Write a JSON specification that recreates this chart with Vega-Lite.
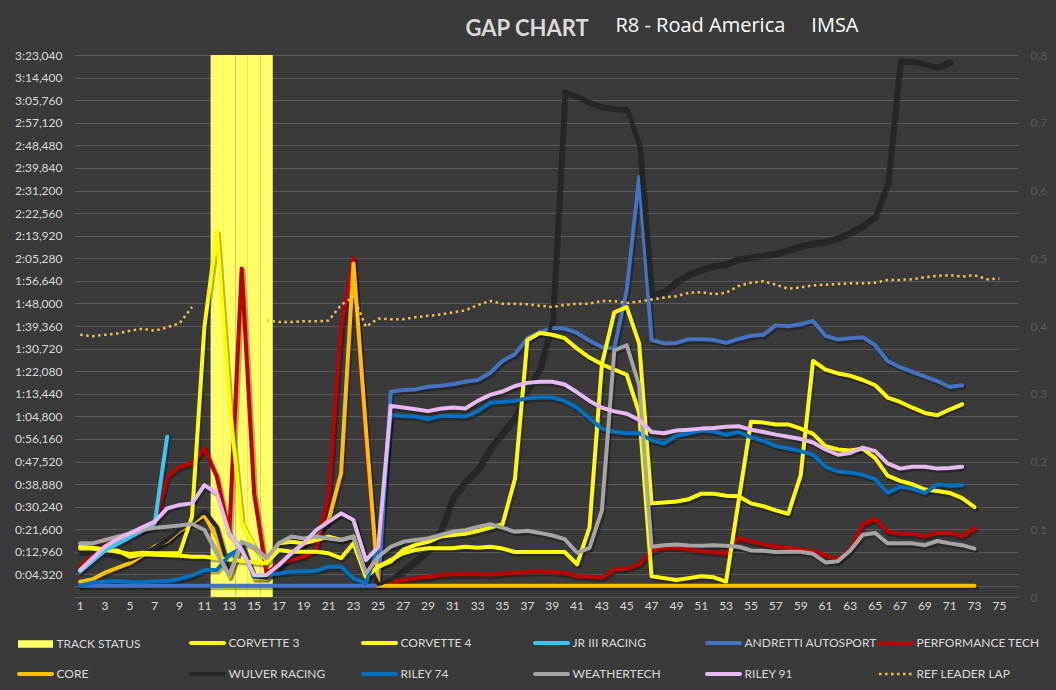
{
  "$schema": "https://vega.github.io/schema/vega-lite/v6.json",
  "width": 944,
  "height": 542,
  "autosize": {"type": "none"},
  "padding": {"left": 74, "top": 55, "right": 38, "bottom": 93},
  "background": "#3a3a3a",
  "config": {
    "view": {"stroke": null},
    "axis": {"domain": false, "ticks": false, "labelFont": "Lato", "labelFontSize": 12},
    "legend": {
      "orient": "none",
      "legendX": -56,
      "legendY": 582,
      "direction": "horizontal",
      "columns": 6,
      "gridAlign": "all",
      "symbolType": "stroke",
      "symbolSize": 100,
      "symbolStrokeWidth": 4,
      "symbolOffset": 11.5,
      "labelFont": "Lato",
      "labelFontSize": 12,
      "labelColor": "#d9d9d9",
      "labelOffset": 15,
      "labelLimit": 0,
      "columnPadding": -6,
      "rowPadding": 15
    }
  },
  "datasets": {
    "track": [
      {"series": "TRACK STATUS", "lap": 12, "status": 0.8},
      {"series": "TRACK STATUS", "lap": 13, "status": 0.8},
      {"series": "TRACK STATUS", "lap": 14, "status": 0.8},
      {"series": "TRACK STATUS", "lap": 15, "status": 0.8},
      {"series": "TRACK STATUS", "lap": 16, "status": 0.8}
    ],
    "ref": [
      {"series": "REF LEADER LAP", "lap": 1, "ref": 0.387},
      {"series": "REF LEADER LAP", "lap": 2, "ref": 0.385},
      {"series": "REF LEADER LAP", "lap": 3, "ref": 0.387},
      {"series": "REF LEADER LAP", "lap": 4, "ref": 0.389},
      {"series": "REF LEADER LAP", "lap": 5, "ref": 0.393},
      {"series": "REF LEADER LAP", "lap": 6, "ref": 0.396},
      {"series": "REF LEADER LAP", "lap": 7, "ref": 0.393},
      {"series": "REF LEADER LAP", "lap": 8, "ref": 0.398},
      {"series": "REF LEADER LAP", "lap": 9, "ref": 0.404},
      {"series": "REF LEADER LAP", "lap": 10, "ref": 0.428},
      {"series": "REF LEADER LAP", "lap": 11, "ref": null},
      {"series": "REF LEADER LAP", "lap": 12, "ref": null},
      {"series": "REF LEADER LAP", "lap": 13, "ref": null},
      {"series": "REF LEADER LAP", "lap": 14, "ref": null},
      {"series": "REF LEADER LAP", "lap": 15, "ref": null},
      {"series": "REF LEADER LAP", "lap": 16, "ref": 0.408},
      {"series": "REF LEADER LAP", "lap": 17, "ref": 0.406},
      {"series": "REF LEADER LAP", "lap": 18, "ref": 0.406},
      {"series": "REF LEADER LAP", "lap": 19, "ref": 0.407},
      {"series": "REF LEADER LAP", "lap": 20, "ref": 0.407},
      {"series": "REF LEADER LAP", "lap": 21, "ref": 0.408},
      {"series": "REF LEADER LAP", "lap": 22, "ref": 0.431},
      {"series": "REF LEADER LAP", "lap": 23, "ref": 0.443},
      {"series": "REF LEADER LAP", "lap": 24, "ref": 0.399},
      {"series": "REF LEADER LAP", "lap": 25, "ref": 0.411},
      {"series": "REF LEADER LAP", "lap": 26, "ref": 0.410},
      {"series": "REF LEADER LAP", "lap": 27, "ref": 0.410},
      {"series": "REF LEADER LAP", "lap": 28, "ref": 0.413},
      {"series": "REF LEADER LAP", "lap": 29, "ref": 0.415},
      {"series": "REF LEADER LAP", "lap": 30, "ref": 0.417},
      {"series": "REF LEADER LAP", "lap": 31, "ref": 0.420},
      {"series": "REF LEADER LAP", "lap": 32, "ref": 0.423},
      {"series": "REF LEADER LAP", "lap": 33, "ref": 0.431},
      {"series": "REF LEADER LAP", "lap": 34, "ref": 0.437},
      {"series": "REF LEADER LAP", "lap": 35, "ref": 0.433},
      {"series": "REF LEADER LAP", "lap": 36, "ref": 0.433},
      {"series": "REF LEADER LAP", "lap": 37, "ref": 0.432},
      {"series": "REF LEADER LAP", "lap": 38, "ref": 0.430},
      {"series": "REF LEADER LAP", "lap": 39, "ref": 0.428},
      {"series": "REF LEADER LAP", "lap": 40, "ref": 0.431},
      {"series": "REF LEADER LAP", "lap": 41, "ref": 0.433},
      {"series": "REF LEADER LAP", "lap": 42, "ref": 0.433},
      {"series": "REF LEADER LAP", "lap": 43, "ref": 0.437},
      {"series": "REF LEADER LAP", "lap": 44, "ref": 0.437},
      {"series": "REF LEADER LAP", "lap": 45, "ref": 0.434},
      {"series": "REF LEADER LAP", "lap": 46, "ref": 0.436},
      {"series": "REF LEADER LAP", "lap": 47, "ref": 0.439},
      {"series": "REF LEADER LAP", "lap": 48, "ref": 0.442},
      {"series": "REF LEADER LAP", "lap": 49, "ref": 0.444},
      {"series": "REF LEADER LAP", "lap": 50, "ref": 0.449},
      {"series": "REF LEADER LAP", "lap": 51, "ref": 0.450},
      {"series": "REF LEADER LAP", "lap": 52, "ref": 0.447},
      {"series": "REF LEADER LAP", "lap": 53, "ref": 0.449},
      {"series": "REF LEADER LAP", "lap": 54, "ref": 0.459},
      {"series": "REF LEADER LAP", "lap": 55, "ref": 0.464},
      {"series": "REF LEADER LAP", "lap": 56, "ref": 0.466},
      {"series": "REF LEADER LAP", "lap": 57, "ref": 0.461},
      {"series": "REF LEADER LAP", "lap": 58, "ref": 0.455},
      {"series": "REF LEADER LAP", "lap": 59, "ref": 0.457},
      {"series": "REF LEADER LAP", "lap": 60, "ref": 0.460},
      {"series": "REF LEADER LAP", "lap": 61, "ref": 0.461},
      {"series": "REF LEADER LAP", "lap": 62, "ref": 0.462},
      {"series": "REF LEADER LAP", "lap": 63, "ref": 0.463},
      {"series": "REF LEADER LAP", "lap": 64, "ref": 0.463},
      {"series": "REF LEADER LAP", "lap": 65, "ref": 0.464},
      {"series": "REF LEADER LAP", "lap": 66, "ref": 0.468},
      {"series": "REF LEADER LAP", "lap": 67, "ref": 0.468},
      {"series": "REF LEADER LAP", "lap": 68, "ref": 0.469},
      {"series": "REF LEADER LAP", "lap": 69, "ref": 0.472},
      {"series": "REF LEADER LAP", "lap": 70, "ref": 0.474},
      {"series": "REF LEADER LAP", "lap": 71, "ref": 0.475},
      {"series": "REF LEADER LAP", "lap": 72, "ref": 0.473},
      {"series": "REF LEADER LAP", "lap": 73, "ref": 0.475},
      {"series": "REF LEADER LAP", "lap": 74, "ref": 0.469},
      {"series": "REF LEADER LAP", "lap": 75, "ref": 0.470}
    ],
    "gaps": [
      {"series": "ANDRETTI AUTOSPORT", "lap": 1, "gap": 0},
      {"series": "ANDRETTI AUTOSPORT", "lap": 2, "gap": 0},
      {"series": "ANDRETTI AUTOSPORT", "lap": 3, "gap": 0},
      {"series": "ANDRETTI AUTOSPORT", "lap": 4, "gap": 0},
      {"series": "ANDRETTI AUTOSPORT", "lap": 5, "gap": 0},
      {"series": "ANDRETTI AUTOSPORT", "lap": 6, "gap": 0},
      {"series": "ANDRETTI AUTOSPORT", "lap": 7, "gap": 0},
      {"series": "ANDRETTI AUTOSPORT", "lap": 8, "gap": 0},
      {"series": "ANDRETTI AUTOSPORT", "lap": 9, "gap": 0},
      {"series": "ANDRETTI AUTOSPORT", "lap": 10, "gap": 0},
      {"series": "ANDRETTI AUTOSPORT", "lap": 11, "gap": 0},
      {"series": "ANDRETTI AUTOSPORT", "lap": 12, "gap": 0},
      {"series": "ANDRETTI AUTOSPORT", "lap": 13, "gap": 0},
      {"series": "ANDRETTI AUTOSPORT", "lap": 14, "gap": 0},
      {"series": "ANDRETTI AUTOSPORT", "lap": 15, "gap": 0},
      {"series": "ANDRETTI AUTOSPORT", "lap": 16, "gap": 0},
      {"series": "ANDRETTI AUTOSPORT", "lap": 17, "gap": 0},
      {"series": "ANDRETTI AUTOSPORT", "lap": 18, "gap": 0},
      {"series": "ANDRETTI AUTOSPORT", "lap": 19, "gap": 0},
      {"series": "ANDRETTI AUTOSPORT", "lap": 20, "gap": 0},
      {"series": "ANDRETTI AUTOSPORT", "lap": 21, "gap": 0},
      {"series": "ANDRETTI AUTOSPORT", "lap": 22, "gap": 0},
      {"series": "ANDRETTI AUTOSPORT", "lap": 23, "gap": 0},
      {"series": "ANDRETTI AUTOSPORT", "lap": 24, "gap": 0},
      {"series": "ANDRETTI AUTOSPORT", "lap": 25, "gap": 0},
      {"series": "ANDRETTI AUTOSPORT", "lap": 26, "gap": 74.2},
      {"series": "ANDRETTI AUTOSPORT", "lap": 27, "gap": 74.9},
      {"series": "ANDRETTI AUTOSPORT", "lap": 28, "gap": 75.1},
      {"series": "ANDRETTI AUTOSPORT", "lap": 29, "gap": 76.1},
      {"series": "ANDRETTI AUTOSPORT", "lap": 30, "gap": 76.5},
      {"series": "ANDRETTI AUTOSPORT", "lap": 31, "gap": 77.1},
      {"series": "ANDRETTI AUTOSPORT", "lap": 32, "gap": 78.0},
      {"series": "ANDRETTI AUTOSPORT", "lap": 33, "gap": 78.7},
      {"series": "ANDRETTI AUTOSPORT", "lap": 34, "gap": 81.4},
      {"series": "ANDRETTI AUTOSPORT", "lap": 35, "gap": 86.0},
      {"series": "ANDRETTI AUTOSPORT", "lap": 36, "gap": 88.6},
      {"series": "ANDRETTI AUTOSPORT", "lap": 37, "gap": 94.7},
      {"series": "ANDRETTI AUTOSPORT", "lap": 38, "gap": 96.9},
      {"series": "ANDRETTI AUTOSPORT", "lap": 39, "gap": 98.6},
      {"series": "ANDRETTI AUTOSPORT", "lap": 40, "gap": 98.4},
      {"series": "ANDRETTI AUTOSPORT", "lap": 41, "gap": 96.7},
      {"series": "ANDRETTI AUTOSPORT", "lap": 42, "gap": 93.7},
      {"series": "ANDRETTI AUTOSPORT", "lap": 43, "gap": 91.3},
      {"series": "ANDRETTI AUTOSPORT", "lap": 44, "gap": 90.7},
      {"series": "ANDRETTI AUTOSPORT", "lap": 45, "gap": 113.1},
      {"series": "ANDRETTI AUTOSPORT", "lap": 46, "gap": 156.4},
      {"series": "ANDRETTI AUTOSPORT", "lap": 47, "gap": 94.0},
      {"series": "ANDRETTI AUTOSPORT", "lap": 48, "gap": 92.7},
      {"series": "ANDRETTI AUTOSPORT", "lap": 49, "gap": 92.9},
      {"series": "ANDRETTI AUTOSPORT", "lap": 50, "gap": 94.3},
      {"series": "ANDRETTI AUTOSPORT", "lap": 51, "gap": 94.3},
      {"series": "ANDRETTI AUTOSPORT", "lap": 52, "gap": 94.0},
      {"series": "ANDRETTI AUTOSPORT", "lap": 53, "gap": 92.9},
      {"series": "ANDRETTI AUTOSPORT", "lap": 54, "gap": 94.4},
      {"series": "ANDRETTI AUTOSPORT", "lap": 55, "gap": 95.6},
      {"series": "ANDRETTI AUTOSPORT", "lap": 56, "gap": 96.0},
      {"series": "ANDRETTI AUTOSPORT", "lap": 57, "gap": 99.6},
      {"series": "ANDRETTI AUTOSPORT", "lap": 58, "gap": 99.3},
      {"series": "ANDRETTI AUTOSPORT", "lap": 59, "gap": 100.0},
      {"series": "ANDRETTI AUTOSPORT", "lap": 60, "gap": 101.3},
      {"series": "ANDRETTI AUTOSPORT", "lap": 61, "gap": 95.6},
      {"series": "ANDRETTI AUTOSPORT", "lap": 62, "gap": 94.2},
      {"series": "ANDRETTI AUTOSPORT", "lap": 63, "gap": 94.7},
      {"series": "ANDRETTI AUTOSPORT", "lap": 64, "gap": 95.1},
      {"series": "ANDRETTI AUTOSPORT", "lap": 65, "gap": 92.0},
      {"series": "ANDRETTI AUTOSPORT", "lap": 66, "gap": 86.0},
      {"series": "ANDRETTI AUTOSPORT", "lap": 67, "gap": 83.6},
      {"series": "ANDRETTI AUTOSPORT", "lap": 68, "gap": 81.8},
      {"series": "ANDRETTI AUTOSPORT", "lap": 69, "gap": 80.0},
      {"series": "ANDRETTI AUTOSPORT", "lap": 70, "gap": 78.3},
      {"series": "ANDRETTI AUTOSPORT", "lap": 71, "gap": 76.0},
      {"series": "ANDRETTI AUTOSPORT", "lap": 72, "gap": 76.7},

      {"series": "PERFORMANCE TECH", "lap": 1, "gap": 7.3},
      {"series": "PERFORMANCE TECH", "lap": 2, "gap": 11.5},
      {"series": "PERFORMANCE TECH", "lap": 3, "gap": 15.6},
      {"series": "PERFORMANCE TECH", "lap": 4, "gap": 17.5},
      {"series": "PERFORMANCE TECH", "lap": 5, "gap": 19.4},
      {"series": "PERFORMANCE TECH", "lap": 6, "gap": 21.5},
      {"series": "PERFORMANCE TECH", "lap": 7, "gap": 23.9},
      {"series": "PERFORMANCE TECH", "lap": 8, "gap": 41.7},
      {"series": "PERFORMANCE TECH", "lap": 9, "gap": 45.5},
      {"series": "PERFORMANCE TECH", "lap": 10, "gap": 46.8},
      {"series": "PERFORMANCE TECH", "lap": 11, "gap": 52.6},
      {"series": "PERFORMANCE TECH", "lap": 12, "gap": 41.7},
      {"series": "PERFORMANCE TECH", "lap": 13, "gap": 20.0},
      {"series": "PERFORMANCE TECH", "lap": 14, "gap": 121.4},
      {"series": "PERFORMANCE TECH", "lap": 15, "gap": 35.3},
      {"series": "PERFORMANCE TECH", "lap": 16, "gap": 4.7},
      {"series": "PERFORMANCE TECH", "lap": 17, "gap": 8.6},
      {"series": "PERFORMANCE TECH", "lap": 18, "gap": 9.8},
      {"series": "PERFORMANCE TECH", "lap": 19, "gap": 11.1},
      {"series": "PERFORMANCE TECH", "lap": 20, "gap": 13.7},
      {"series": "PERFORMANCE TECH", "lap": 21, "gap": 35.0},
      {"series": "PERFORMANCE TECH", "lap": 22, "gap": 99.1},
      {"series": "PERFORMANCE TECH", "lap": 23, "gap": 125.3},
      {"series": "PERFORMANCE TECH", "lap": 24, "gap": 55.0},
      {"series": "PERFORMANCE TECH", "lap": 25, "gap": 1.0},
      {"series": "PERFORMANCE TECH", "lap": 26, "gap": 1.5},
      {"series": "PERFORMANCE TECH", "lap": 27, "gap": 2.2},
      {"series": "PERFORMANCE TECH", "lap": 28, "gap": 2.8},
      {"series": "PERFORMANCE TECH", "lap": 29, "gap": 3.4},
      {"series": "PERFORMANCE TECH", "lap": 30, "gap": 4.0},
      {"series": "PERFORMANCE TECH", "lap": 31, "gap": 4.4},
      {"series": "PERFORMANCE TECH", "lap": 32, "gap": 4.4},
      {"series": "PERFORMANCE TECH", "lap": 33, "gap": 4.5},
      {"series": "PERFORMANCE TECH", "lap": 34, "gap": 4.2},
      {"series": "PERFORMANCE TECH", "lap": 35, "gap": 4.6},
      {"series": "PERFORMANCE TECH", "lap": 36, "gap": 4.9},
      {"series": "PERFORMANCE TECH", "lap": 37, "gap": 5.2},
      {"series": "PERFORMANCE TECH", "lap": 38, "gap": 5.3},
      {"series": "PERFORMANCE TECH", "lap": 39, "gap": 5.3},
      {"series": "PERFORMANCE TECH", "lap": 40, "gap": 4.8},
      {"series": "PERFORMANCE TECH", "lap": 41, "gap": 3.6},
      {"series": "PERFORMANCE TECH", "lap": 42, "gap": 3.4},
      {"series": "PERFORMANCE TECH", "lap": 43, "gap": 3.0},
      {"series": "PERFORMANCE TECH", "lap": 44, "gap": 6.2},
      {"series": "PERFORMANCE TECH", "lap": 45, "gap": 6.5},
      {"series": "PERFORMANCE TECH", "lap": 46, "gap": 8.2},
      {"series": "PERFORMANCE TECH", "lap": 47, "gap": 13.2},
      {"series": "PERFORMANCE TECH", "lap": 48, "gap": 14.5},
      {"series": "PERFORMANCE TECH", "lap": 49, "gap": 14.5},
      {"series": "PERFORMANCE TECH", "lap": 50, "gap": 13.8},
      {"series": "PERFORMANCE TECH", "lap": 51, "gap": 13.2},
      {"series": "PERFORMANCE TECH", "lap": 52, "gap": 12.9},
      {"series": "PERFORMANCE TECH", "lap": 53, "gap": 12.2},
      {"series": "PERFORMANCE TECH", "lap": 54, "gap": 18.2},
      {"series": "PERFORMANCE TECH", "lap": 55, "gap": 16.9},
      {"series": "PERFORMANCE TECH", "lap": 56, "gap": 15.8},
      {"series": "PERFORMANCE TECH", "lap": 57, "gap": 14.9},
      {"series": "PERFORMANCE TECH", "lap": 58, "gap": 14.5},
      {"series": "PERFORMANCE TECH", "lap": 59, "gap": 13.9},
      {"series": "PERFORMANCE TECH", "lap": 60, "gap": 13.2},
      {"series": "PERFORMANCE TECH", "lap": 61, "gap": 11.6},
      {"series": "PERFORMANCE TECH", "lap": 62, "gap": 9.9},
      {"series": "PERFORMANCE TECH", "lap": 63, "gap": 13.9},
      {"series": "PERFORMANCE TECH", "lap": 64, "gap": 23.5},
      {"series": "PERFORMANCE TECH", "lap": 65, "gap": 25.5},
      {"series": "PERFORMANCE TECH", "lap": 66, "gap": 20.6},
      {"series": "PERFORMANCE TECH", "lap": 67, "gap": 19.8},
      {"series": "PERFORMANCE TECH", "lap": 68, "gap": 19.8},
      {"series": "PERFORMANCE TECH", "lap": 69, "gap": 18.9},
      {"series": "PERFORMANCE TECH", "lap": 70, "gap": 20.2},
      {"series": "PERFORMANCE TECH", "lap": 71, "gap": 20.2},
      {"series": "PERFORMANCE TECH", "lap": 72, "gap": 18.9},
      {"series": "PERFORMANCE TECH", "lap": 73, "gap": 21.9},

      {"series": "CORE", "lap": 1, "gap": 1.5},
      {"series": "CORE", "lap": 2, "gap": 2.5},
      {"series": "CORE", "lap": 3, "gap": 5.0},
      {"series": "CORE", "lap": 4, "gap": 6.8},
      {"series": "CORE", "lap": 5, "gap": 8.6},
      {"series": "CORE", "lap": 6, "gap": 11.5},
      {"series": "CORE", "lap": 7, "gap": 15.0},
      {"series": "CORE", "lap": 8, "gap": 17.0},
      {"series": "CORE", "lap": 9, "gap": 21.0},
      {"series": "CORE", "lap": 10, "gap": 24.0},
      {"series": "CORE", "lap": 11, "gap": 27.0},
      {"series": "CORE", "lap": 12, "gap": 18.1},
      {"series": "CORE", "lap": 13, "gap": 3.4},
      {"series": "CORE", "lap": 14, "gap": 16.2},
      {"series": "CORE", "lap": 15, "gap": 2.8},
      {"series": "CORE", "lap": 16, "gap": 2.8},
      {"series": "CORE", "lap": 17, "gap": 7.3},
      {"series": "CORE", "lap": 18, "gap": 12.4},
      {"series": "CORE", "lap": 19, "gap": 16.2},
      {"series": "CORE", "lap": 20, "gap": 20.0},
      {"series": "CORE", "lap": 21, "gap": 25.1},
      {"series": "CORE", "lap": 22, "gap": 43.0},
      {"series": "CORE", "lap": 23, "gap": 123.3},
      {"series": "CORE", "lap": 24, "gap": 60.0},
      {"series": "CORE", "lap": 25, "gap": 0},
      {"series": "CORE", "lap": 26, "gap": 0},
      {"series": "CORE", "lap": 27, "gap": 0},
      {"series": "CORE", "lap": 28, "gap": 0},
      {"series": "CORE", "lap": 29, "gap": 0},
      {"series": "CORE", "lap": 30, "gap": 0},
      {"series": "CORE", "lap": 31, "gap": 0},
      {"series": "CORE", "lap": 32, "gap": 0},
      {"series": "CORE", "lap": 33, "gap": 0},
      {"series": "CORE", "lap": 34, "gap": 0},
      {"series": "CORE", "lap": 35, "gap": 0},
      {"series": "CORE", "lap": 36, "gap": 0},
      {"series": "CORE", "lap": 37, "gap": 0},
      {"series": "CORE", "lap": 38, "gap": 0},
      {"series": "CORE", "lap": 39, "gap": 0},
      {"series": "CORE", "lap": 40, "gap": 0},
      {"series": "CORE", "lap": 41, "gap": 0},
      {"series": "CORE", "lap": 42, "gap": 0},
      {"series": "CORE", "lap": 43, "gap": 0},
      {"series": "CORE", "lap": 44, "gap": 0},
      {"series": "CORE", "lap": 45, "gap": 0},
      {"series": "CORE", "lap": 46, "gap": 0},
      {"series": "CORE", "lap": 47, "gap": 0},
      {"series": "CORE", "lap": 48, "gap": 0},
      {"series": "CORE", "lap": 49, "gap": 0},
      {"series": "CORE", "lap": 50, "gap": 0},
      {"series": "CORE", "lap": 51, "gap": 0},
      {"series": "CORE", "lap": 52, "gap": 0},
      {"series": "CORE", "lap": 53, "gap": 0},
      {"series": "CORE", "lap": 54, "gap": 0},
      {"series": "CORE", "lap": 55, "gap": 0},
      {"series": "CORE", "lap": 56, "gap": 0},
      {"series": "CORE", "lap": 57, "gap": 0},
      {"series": "CORE", "lap": 58, "gap": 0},
      {"series": "CORE", "lap": 59, "gap": 0},
      {"series": "CORE", "lap": 60, "gap": 0},
      {"series": "CORE", "lap": 61, "gap": 0},
      {"series": "CORE", "lap": 62, "gap": 0},
      {"series": "CORE", "lap": 63, "gap": 0},
      {"series": "CORE", "lap": 64, "gap": 0},
      {"series": "CORE", "lap": 65, "gap": 0},
      {"series": "CORE", "lap": 66, "gap": 0},
      {"series": "CORE", "lap": 67, "gap": 0},
      {"series": "CORE", "lap": 68, "gap": 0},
      {"series": "CORE", "lap": 69, "gap": 0},
      {"series": "CORE", "lap": 70, "gap": 0},
      {"series": "CORE", "lap": 71, "gap": 0},
      {"series": "CORE", "lap": 72, "gap": 0},
      {"series": "CORE", "lap": 73, "gap": 0},

      {"series": "WULVER RACING", "lap": 1, "gap": 13.0},
      {"series": "WULVER RACING", "lap": 2, "gap": 13.0},
      {"series": "WULVER RACING", "lap": 3, "gap": 12.5},
      {"series": "WULVER RACING", "lap": 4, "gap": 11.5},
      {"series": "WULVER RACING", "lap": 5, "gap": 10.0},
      {"series": "WULVER RACING", "lap": 6, "gap": 12.0},
      {"series": "WULVER RACING", "lap": 7, "gap": 14.5},
      {"series": "WULVER RACING", "lap": 8, "gap": 17.5},
      {"series": "WULVER RACING", "lap": 9, "gap": 21.5},
      {"series": "WULVER RACING", "lap": 10, "gap": 24.5},
      {"series": "WULVER RACING", "lap": 11, "gap": 28.5},
      {"series": "WULVER RACING", "lap": 12, "gap": 22.5},
      {"series": "WULVER RACING", "lap": 13, "gap": 6.0},
      {"series": "WULVER RACING", "lap": 14, "gap": 16.5},
      {"series": "WULVER RACING", "lap": 15, "gap": 3.4},
      {"series": "WULVER RACING", "lap": 16, "gap": 3.0},
      {"series": "WULVER RACING", "lap": 17, "gap": 7.0},
      {"series": "WULVER RACING", "lap": 18, "gap": 11.5},
      {"series": "WULVER RACING", "lap": 19, "gap": 15.5},
      {"series": "WULVER RACING", "lap": 20, "gap": 20.5},
      {"series": "WULVER RACING", "lap": 21, "gap": 24.5},
      {"series": "WULVER RACING", "lap": 22, "gap": 28.3},
      {"series": "WULVER RACING", "lap": 23, "gap": 25.5},
      {"series": "WULVER RACING", "lap": 24, "gap": 10.0},
      {"series": "WULVER RACING", "lap": 25, "gap": 0.5},
      {"series": "WULVER RACING", "lap": 26, "gap": 2.2},
      {"series": "WULVER RACING", "lap": 27, "gap": 6.0},
      {"series": "WULVER RACING", "lap": 28, "gap": 9.8},
      {"series": "WULVER RACING", "lap": 29, "gap": 13.7},
      {"series": "WULVER RACING", "lap": 30, "gap": 21.3},
      {"series": "WULVER RACING", "lap": 31, "gap": 34.1},
      {"series": "WULVER RACING", "lap": 32, "gap": 40.0},
      {"series": "WULVER RACING", "lap": 33, "gap": 44.8},
      {"series": "WULVER RACING", "lap": 34, "gap": 52.8},
      {"series": "WULVER RACING", "lap": 35, "gap": 58.8},
      {"series": "WULVER RACING", "lap": 36, "gap": 64.7},
      {"series": "WULVER RACING", "lap": 37, "gap": 75.4},
      {"series": "WULVER RACING", "lap": 38, "gap": 83.4},
      {"series": "WULVER RACING", "lap": 39, "gap": 101.6},
      {"series": "WULVER RACING", "lap": 40, "gap": 189.1},
      {"series": "WULVER RACING", "lap": 41, "gap": 187.4},
      {"series": "WULVER RACING", "lap": 42, "gap": 185.1},
      {"series": "WULVER RACING", "lap": 43, "gap": 183.4},
      {"series": "WULVER RACING", "lap": 44, "gap": 182.8},
      {"series": "WULVER RACING", "lap": 45, "gap": 182.4},
      {"series": "WULVER RACING", "lap": 46, "gap": 168.5},
      {"series": "WULVER RACING", "lap": 47, "gap": 111.3},
      {"series": "WULVER RACING", "lap": 48, "gap": 112.6},
      {"series": "WULVER RACING", "lap": 49, "gap": 116.6},
      {"series": "WULVER RACING", "lap": 50, "gap": 119.5},
      {"series": "WULVER RACING", "lap": 51, "gap": 121.2},
      {"series": "WULVER RACING", "lap": 52, "gap": 122.6},
      {"series": "WULVER RACING", "lap": 53, "gap": 123.3},
      {"series": "WULVER RACING", "lap": 54, "gap": 125.3},
      {"series": "WULVER RACING", "lap": 55, "gap": 125.9},
      {"series": "WULVER RACING", "lap": 56, "gap": 126.6},
      {"series": "WULVER RACING", "lap": 57, "gap": 127.3},
      {"series": "WULVER RACING", "lap": 58, "gap": 128.8},
      {"series": "WULVER RACING", "lap": 59, "gap": 130.2},
      {"series": "WULVER RACING", "lap": 60, "gap": 131.2},
      {"series": "WULVER RACING", "lap": 61, "gap": 131.9},
      {"series": "WULVER RACING", "lap": 62, "gap": 133.2},
      {"series": "WULVER RACING", "lap": 63, "gap": 135.3},
      {"series": "WULVER RACING", "lap": 64, "gap": 137.9},
      {"series": "WULVER RACING", "lap": 65, "gap": 141.6},
      {"series": "WULVER RACING", "lap": 66, "gap": 154.5},
      {"series": "WULVER RACING", "lap": 67, "gap": 201.0},
      {"series": "WULVER RACING", "lap": 68, "gap": 200.9},
      {"series": "WULVER RACING", "lap": 69, "gap": 199.8},
      {"series": "WULVER RACING", "lap": 70, "gap": 198.6},
      {"series": "WULVER RACING", "lap": 71, "gap": 200.6},

      {"series": "CORVETTE 3", "lap": 1, "gap": 14.9},
      {"series": "CORVETTE 3", "lap": 2, "gap": 14.5},
      {"series": "CORVETTE 3", "lap": 3, "gap": 13.9},
      {"series": "CORVETTE 3", "lap": 4, "gap": 13.0},
      {"series": "CORVETTE 3", "lap": 5, "gap": 12.1},
      {"series": "CORVETTE 3", "lap": 6, "gap": 12.6},
      {"series": "CORVETTE 3", "lap": 7, "gap": 12.4},
      {"series": "CORVETTE 3", "lap": 8, "gap": 12.4},
      {"series": "CORVETTE 3", "lap": 9, "gap": 12.4},
      {"series": "CORVETTE 3", "lap": 10, "gap": 26.4},
      {"series": "CORVETTE 3", "lap": 11, "gap": 99.1},
      {"series": "CORVETTE 3", "lap": 12, "gap": 135.4},
      {"series": "CORVETTE 3", "lap": 13, "gap": 71.0},
      {"series": "CORVETTE 3", "lap": 14, "gap": 23.9},
      {"series": "CORVETTE 3", "lap": 15, "gap": 14.9},
      {"series": "CORVETTE 3", "lap": 16, "gap": 9.8},
      {"series": "CORVETTE 3", "lap": 17, "gap": 16.2},
      {"series": "CORVETTE 3", "lap": 18, "gap": 16.8},
      {"series": "CORVETTE 3", "lap": 19, "gap": 16.2},
      {"series": "CORVETTE 3", "lap": 20, "gap": 17.5},
      {"series": "CORVETTE 3", "lap": 21, "gap": 18.8},
      {"series": "CORVETTE 3", "lap": 22, "gap": 17.5},
      {"series": "CORVETTE 3", "lap": 23, "gap": 18.8},
      {"series": "CORVETTE 3", "lap": 24, "gap": 3.4},
      {"series": "CORVETTE 3", "lap": 25, "gap": 7.3},
      {"series": "CORVETTE 3", "lap": 26, "gap": 9.2},
      {"series": "CORVETTE 3", "lap": 27, "gap": 13.7},
      {"series": "CORVETTE 3", "lap": 28, "gap": 15.6},
      {"series": "CORVETTE 3", "lap": 29, "gap": 16.8},
      {"series": "CORVETTE 3", "lap": 30, "gap": 18.8},
      {"series": "CORVETTE 3", "lap": 31, "gap": 19.4},
      {"series": "CORVETTE 3", "lap": 32, "gap": 19.9},
      {"series": "CORVETTE 3", "lap": 33, "gap": 20.9},
      {"series": "CORVETTE 3", "lap": 34, "gap": 22.2},
      {"series": "CORVETTE 3", "lap": 35, "gap": 23.5},
      {"series": "CORVETTE 3", "lap": 36, "gap": 40.8},
      {"series": "CORVETTE 3", "lap": 37, "gap": 94.0},
      {"series": "CORVETTE 3", "lap": 38, "gap": 96.7},
      {"series": "CORVETTE 3", "lap": 39, "gap": 96.0},
      {"series": "CORVETTE 3", "lap": 40, "gap": 94.7},
      {"series": "CORVETTE 3", "lap": 41, "gap": 90.7},
      {"series": "CORVETTE 3", "lap": 42, "gap": 87.3},
      {"series": "CORVETTE 3", "lap": 43, "gap": 84.7},
      {"series": "CORVETTE 3", "lap": 44, "gap": 82.7},
      {"series": "CORVETTE 3", "lap": 45, "gap": 80.7},
      {"series": "CORVETTE 3", "lap": 46, "gap": 66.1},
      {"series": "CORVETTE 3", "lap": 47, "gap": 3.6},
      {"series": "CORVETTE 3", "lap": 48, "gap": 2.9},
      {"series": "CORVETTE 3", "lap": 49, "gap": 2.2},
      {"series": "CORVETTE 3", "lap": 50, "gap": 2.9},
      {"series": "CORVETTE 3", "lap": 51, "gap": 3.6},
      {"series": "CORVETTE 3", "lap": 52, "gap": 3.2},
      {"series": "CORVETTE 3", "lap": 53, "gap": 1.6},
      {"series": "CORVETTE 3", "lap": 54, "gap": 32.2},
      {"series": "CORVETTE 3", "lap": 55, "gap": 62.7},
      {"series": "CORVETTE 3", "lap": 56, "gap": 62.4},
      {"series": "CORVETTE 3", "lap": 57, "gap": 61.7},
      {"series": "CORVETTE 3", "lap": 58, "gap": 61.7},
      {"series": "CORVETTE 3", "lap": 59, "gap": 60.1},
      {"series": "CORVETTE 3", "lap": 60, "gap": 58.1},
      {"series": "CORVETTE 3", "lap": 61, "gap": 53.4},
      {"series": "CORVETTE 3", "lap": 62, "gap": 52.1},
      {"series": "CORVETTE 3", "lap": 63, "gap": 51.7},
      {"series": "CORVETTE 3", "lap": 64, "gap": 52.4},
      {"series": "CORVETTE 3", "lap": 65, "gap": 48.8},
      {"series": "CORVETTE 3", "lap": 66, "gap": 42.1},
      {"series": "CORVETTE 3", "lap": 67, "gap": 40.1},
      {"series": "CORVETTE 3", "lap": 68, "gap": 38.8},
      {"series": "CORVETTE 3", "lap": 69, "gap": 36.8},
      {"series": "CORVETTE 3", "lap": 70, "gap": 36.2},
      {"series": "CORVETTE 3", "lap": 71, "gap": 35.5},
      {"series": "CORVETTE 3", "lap": 72, "gap": 33.5},
      {"series": "CORVETTE 3", "lap": 73, "gap": 30.1},

      {"series": "CORVETTE 4", "lap": 1, "gap": 14.2},
      {"series": "CORVETTE 4", "lap": 2, "gap": 14.2},
      {"series": "CORVETTE 4", "lap": 3, "gap": 13.5},
      {"series": "CORVETTE 4", "lap": 4, "gap": 13.5},
      {"series": "CORVETTE 4", "lap": 5, "gap": 11.1},
      {"series": "CORVETTE 4", "lap": 6, "gap": 12.0},
      {"series": "CORVETTE 4", "lap": 7, "gap": 11.8},
      {"series": "CORVETTE 4", "lap": 8, "gap": 11.7},
      {"series": "CORVETTE 4", "lap": 9, "gap": 11.5},
      {"series": "CORVETTE 4", "lap": 10, "gap": 11.1},
      {"series": "CORVETTE 4", "lap": 11, "gap": 11.1},
      {"series": "CORVETTE 4", "lap": 12, "gap": 10.5},
      {"series": "CORVETTE 4", "lap": 13, "gap": 10.0},
      {"series": "CORVETTE 4", "lap": 14, "gap": 9.5},
      {"series": "CORVETTE 4", "lap": 15, "gap": 9.0},
      {"series": "CORVETTE 4", "lap": 16, "gap": 8.6},
      {"series": "CORVETTE 4", "lap": 17, "gap": 13.7},
      {"series": "CORVETTE 4", "lap": 18, "gap": 13.0},
      {"series": "CORVETTE 4", "lap": 19, "gap": 13.0},
      {"series": "CORVETTE 4", "lap": 20, "gap": 13.0},
      {"series": "CORVETTE 4", "lap": 21, "gap": 12.4},
      {"series": "CORVETTE 4", "lap": 22, "gap": 10.5},
      {"series": "CORVETTE 4", "lap": 23, "gap": 16.2},
      {"series": "CORVETTE 4", "lap": 24, "gap": 3.4},
      {"series": "CORVETTE 4", "lap": 25, "gap": 7.3},
      {"series": "CORVETTE 4", "lap": 26, "gap": 9.8},
      {"series": "CORVETTE 4", "lap": 27, "gap": 12.4},
      {"series": "CORVETTE 4", "lap": 28, "gap": 13.7},
      {"series": "CORVETTE 4", "lap": 29, "gap": 14.3},
      {"series": "CORVETTE 4", "lap": 30, "gap": 14.3},
      {"series": "CORVETTE 4", "lap": 31, "gap": 14.3},
      {"series": "CORVETTE 4", "lap": 32, "gap": 14.9},
      {"series": "CORVETTE 4", "lap": 33, "gap": 14.5},
      {"series": "CORVETTE 4", "lap": 34, "gap": 14.9},
      {"series": "CORVETTE 4", "lap": 35, "gap": 14.2},
      {"series": "CORVETTE 4", "lap": 36, "gap": 12.9},
      {"series": "CORVETTE 4", "lap": 37, "gap": 12.9},
      {"series": "CORVETTE 4", "lap": 38, "gap": 12.9},
      {"series": "CORVETTE 4", "lap": 39, "gap": 12.9},
      {"series": "CORVETTE 4", "lap": 40, "gap": 12.9},
      {"series": "CORVETTE 4", "lap": 41, "gap": 8.2},
      {"series": "CORVETTE 4", "lap": 42, "gap": 22.2},
      {"series": "CORVETTE 4", "lap": 43, "gap": 84.7},
      {"series": "CORVETTE 4", "lap": 44, "gap": 104.6},
      {"series": "CORVETTE 4", "lap": 45, "gap": 106.6},
      {"series": "CORVETTE 4", "lap": 46, "gap": 92.7},
      {"series": "CORVETTE 4", "lap": 47, "gap": 31.5},
      {"series": "CORVETTE 4", "lap": 48, "gap": 31.8},
      {"series": "CORVETTE 4", "lap": 49, "gap": 32.2},
      {"series": "CORVETTE 4", "lap": 50, "gap": 33.1},
      {"series": "CORVETTE 4", "lap": 51, "gap": 35.2},
      {"series": "CORVETTE 4", "lap": 52, "gap": 35.2},
      {"series": "CORVETTE 4", "lap": 53, "gap": 34.4},
      {"series": "CORVETTE 4", "lap": 54, "gap": 34.2},
      {"series": "CORVETTE 4", "lap": 55, "gap": 31.5},
      {"series": "CORVETTE 4", "lap": 56, "gap": 30.4},
      {"series": "CORVETTE 4", "lap": 57, "gap": 28.8},
      {"series": "CORVETTE 4", "lap": 58, "gap": 27.5},
      {"series": "CORVETTE 4", "lap": 59, "gap": 42.1},
      {"series": "CORVETTE 4", "lap": 60, "gap": 86.0},
      {"series": "CORVETTE 4", "lap": 61, "gap": 82.7},
      {"series": "CORVETTE 4", "lap": 62, "gap": 81.2},
      {"series": "CORVETTE 4", "lap": 63, "gap": 80.3},
      {"series": "CORVETTE 4", "lap": 64, "gap": 78.7},
      {"series": "CORVETTE 4", "lap": 65, "gap": 76.7},
      {"series": "CORVETTE 4", "lap": 66, "gap": 72.0},
      {"series": "CORVETTE 4", "lap": 67, "gap": 70.3},
      {"series": "CORVETTE 4", "lap": 68, "gap": 68.1},
      {"series": "CORVETTE 4", "lap": 69, "gap": 66.1},
      {"series": "CORVETTE 4", "lap": 70, "gap": 65.2},
      {"series": "CORVETTE 4", "lap": 71, "gap": 67.4},
      {"series": "CORVETTE 4", "lap": 72, "gap": 69.4},

      {"series": "JR III RACING", "lap": 1, "gap": 5.4},
      {"series": "JR III RACING", "lap": 2, "gap": 9.5},
      {"series": "JR III RACING", "lap": 3, "gap": 13.5},
      {"series": "JR III RACING", "lap": 4, "gap": 16.0},
      {"series": "JR III RACING", "lap": 5, "gap": 18.5},
      {"series": "JR III RACING", "lap": 6, "gap": 21.0},
      {"series": "JR III RACING", "lap": 7, "gap": 24.0},
      {"series": "JR III RACING", "lap": 8, "gap": 57.0},

      {"series": "RILEY 74", "lap": 1, "gap": 0},
      {"series": "RILEY 74", "lap": 2, "gap": 1.2},
      {"series": "RILEY 74", "lap": 3, "gap": 1.5},
      {"series": "RILEY 74", "lap": 4, "gap": 1.8},
      {"series": "RILEY 74", "lap": 5, "gap": 1.4},
      {"series": "RILEY 74", "lap": 6, "gap": 1.2},
      {"series": "RILEY 74", "lap": 7, "gap": 1.7},
      {"series": "RILEY 74", "lap": 8, "gap": 1.8},
      {"series": "RILEY 74", "lap": 9, "gap": 2.6},
      {"series": "RILEY 74", "lap": 10, "gap": 3.9},
      {"series": "RILEY 74", "lap": 11, "gap": 6.0},
      {"series": "RILEY 74", "lap": 12, "gap": 6.0},
      {"series": "RILEY 74", "lap": 13, "gap": 11.7},
      {"series": "RILEY 74", "lap": 14, "gap": 14.3},
      {"series": "RILEY 74", "lap": 15, "gap": 3.4},
      {"series": "RILEY 74", "lap": 16, "gap": 4.1},
      {"series": "RILEY 74", "lap": 17, "gap": 4.7},
      {"series": "RILEY 74", "lap": 18, "gap": 5.4},
      {"series": "RILEY 74", "lap": 19, "gap": 5.4},
      {"series": "RILEY 74", "lap": 20, "gap": 5.7},
      {"series": "RILEY 74", "lap": 21, "gap": 7.3},
      {"series": "RILEY 74", "lap": 22, "gap": 7.3},
      {"series": "RILEY 74", "lap": 23, "gap": 2.8},
      {"series": "RILEY 74", "lap": 24, "gap": 0.9},
      {"series": "RILEY 74", "lap": 25, "gap": 14.9},
      {"series": "RILEY 74", "lap": 26, "gap": 65.3},
      {"series": "RILEY 74", "lap": 27, "gap": 64.9},
      {"series": "RILEY 74", "lap": 28, "gap": 64.7},
      {"series": "RILEY 74", "lap": 29, "gap": 63.7},
      {"series": "RILEY 74", "lap": 30, "gap": 64.9},
      {"series": "RILEY 74", "lap": 31, "gap": 64.9},
      {"series": "RILEY 74", "lap": 32, "gap": 64.7},
      {"series": "RILEY 74", "lap": 33, "gap": 66.7},
      {"series": "RILEY 74", "lap": 34, "gap": 70.0},
      {"series": "RILEY 74", "lap": 35, "gap": 70.3},
      {"series": "RILEY 74", "lap": 36, "gap": 70.7},
      {"series": "RILEY 74", "lap": 37, "gap": 71.7},
      {"series": "RILEY 74", "lap": 38, "gap": 72.0},
      {"series": "RILEY 74", "lap": 39, "gap": 72.0},
      {"series": "RILEY 74", "lap": 40, "gap": 70.7},
      {"series": "RILEY 74", "lap": 41, "gap": 68.1},
      {"series": "RILEY 74", "lap": 42, "gap": 64.1},
      {"series": "RILEY 74", "lap": 43, "gap": 60.1},
      {"series": "RILEY 74", "lap": 44, "gap": 58.8},
      {"series": "RILEY 74", "lap": 45, "gap": 58.3},
      {"series": "RILEY 74", "lap": 46, "gap": 58.3},
      {"series": "RILEY 74", "lap": 47, "gap": 55.6},
      {"series": "RILEY 74", "lap": 48, "gap": 54.4},
      {"series": "RILEY 74", "lap": 49, "gap": 57.4},
      {"series": "RILEY 74", "lap": 50, "gap": 58.3},
      {"series": "RILEY 74", "lap": 51, "gap": 59.4},
      {"series": "RILEY 74", "lap": 52, "gap": 59.0},
      {"series": "RILEY 74", "lap": 53, "gap": 57.7},
      {"series": "RILEY 74", "lap": 54, "gap": 58.8},
      {"series": "RILEY 74", "lap": 55, "gap": 56.8},
      {"series": "RILEY 74", "lap": 56, "gap": 55.4},
      {"series": "RILEY 74", "lap": 57, "gap": 53.4},
      {"series": "RILEY 74", "lap": 58, "gap": 52.5},
      {"series": "RILEY 74", "lap": 59, "gap": 51.5},
      {"series": "RILEY 74", "lap": 60, "gap": 50.1},
      {"series": "RILEY 74", "lap": 61, "gap": 45.5},
      {"series": "RILEY 74", "lap": 62, "gap": 43.6},
      {"series": "RILEY 74", "lap": 63, "gap": 43.3},
      {"series": "RILEY 74", "lap": 64, "gap": 42.4},
      {"series": "RILEY 74", "lap": 65, "gap": 40.8},
      {"series": "RILEY 74", "lap": 66, "gap": 35.5},
      {"series": "RILEY 74", "lap": 67, "gap": 37.9},
      {"series": "RILEY 74", "lap": 68, "gap": 37.1},
      {"series": "RILEY 74", "lap": 69, "gap": 35.5},
      {"series": "RILEY 74", "lap": 70, "gap": 38.8},
      {"series": "RILEY 74", "lap": 71, "gap": 38.2},
      {"series": "RILEY 74", "lap": 72, "gap": 38.4},

      {"series": "WEATHERTECH", "lap": 1, "gap": 16.2},
      {"series": "WEATHERTECH", "lap": 2, "gap": 16.2},
      {"series": "WEATHERTECH", "lap": 3, "gap": 17.5},
      {"series": "WEATHERTECH", "lap": 4, "gap": 18.8},
      {"series": "WEATHERTECH", "lap": 5, "gap": 20.0},
      {"series": "WEATHERTECH", "lap": 6, "gap": 21.3},
      {"series": "WEATHERTECH", "lap": 7, "gap": 22.2},
      {"series": "WEATHERTECH", "lap": 8, "gap": 22.6},
      {"series": "WEATHERTECH", "lap": 9, "gap": 23.0},
      {"series": "WEATHERTECH", "lap": 10, "gap": 23.6},
      {"series": "WEATHERTECH", "lap": 11, "gap": 21.3},
      {"series": "WEATHERTECH", "lap": 12, "gap": 12.4},
      {"series": "WEATHERTECH", "lap": 13, "gap": 4.1},
      {"series": "WEATHERTECH", "lap": 14, "gap": 16.8},
      {"series": "WEATHERTECH", "lap": 15, "gap": 14.9},
      {"series": "WEATHERTECH", "lap": 16, "gap": 10.5},
      {"series": "WEATHERTECH", "lap": 17, "gap": 16.2},
      {"series": "WEATHERTECH", "lap": 18, "gap": 18.8},
      {"series": "WEATHERTECH", "lap": 19, "gap": 18.1},
      {"series": "WEATHERTECH", "lap": 20, "gap": 18.8},
      {"series": "WEATHERTECH", "lap": 21, "gap": 18.1},
      {"series": "WEATHERTECH", "lap": 22, "gap": 17.5},
      {"series": "WEATHERTECH", "lap": 23, "gap": 18.8},
      {"series": "WEATHERTECH", "lap": 24, "gap": 4.7},
      {"series": "WEATHERTECH", "lap": 25, "gap": 11.1},
      {"series": "WEATHERTECH", "lap": 26, "gap": 14.9},
      {"series": "WEATHERTECH", "lap": 27, "gap": 16.8},
      {"series": "WEATHERTECH", "lap": 28, "gap": 17.5},
      {"series": "WEATHERTECH", "lap": 29, "gap": 18.1},
      {"series": "WEATHERTECH", "lap": 30, "gap": 19.4},
      {"series": "WEATHERTECH", "lap": 31, "gap": 20.7},
      {"series": "WEATHERTECH", "lap": 32, "gap": 21.2},
      {"series": "WEATHERTECH", "lap": 33, "gap": 22.5},
      {"series": "WEATHERTECH", "lap": 34, "gap": 23.5},
      {"series": "WEATHERTECH", "lap": 35, "gap": 22.2},
      {"series": "WEATHERTECH", "lap": 36, "gap": 20.6},
      {"series": "WEATHERTECH", "lap": 37, "gap": 21.0},
      {"series": "WEATHERTECH", "lap": 38, "gap": 20.2},
      {"series": "WEATHERTECH", "lap": 39, "gap": 19.2},
      {"series": "WEATHERTECH", "lap": 40, "gap": 17.8},
      {"series": "WEATHERTECH", "lap": 41, "gap": 12.6},
      {"series": "WEATHERTECH", "lap": 42, "gap": 14.5},
      {"series": "WEATHERTECH", "lap": 43, "gap": 28.8},
      {"series": "WEATHERTECH", "lap": 44, "gap": 90.0},
      {"series": "WEATHERTECH", "lap": 45, "gap": 92.0},
      {"series": "WEATHERTECH", "lap": 46, "gap": 76.7},
      {"series": "WEATHERTECH", "lap": 47, "gap": 14.9},
      {"series": "WEATHERTECH", "lap": 48, "gap": 15.5},
      {"series": "WEATHERTECH", "lap": 49, "gap": 15.8},
      {"series": "WEATHERTECH", "lap": 50, "gap": 15.4},
      {"series": "WEATHERTECH", "lap": 51, "gap": 15.3},
      {"series": "WEATHERTECH", "lap": 52, "gap": 15.5},
      {"series": "WEATHERTECH", "lap": 53, "gap": 15.3},
      {"series": "WEATHERTECH", "lap": 54, "gap": 14.9},
      {"series": "WEATHERTECH", "lap": 55, "gap": 13.5},
      {"series": "WEATHERTECH", "lap": 56, "gap": 13.4},
      {"series": "WEATHERTECH", "lap": 57, "gap": 12.9},
      {"series": "WEATHERTECH", "lap": 58, "gap": 13.0},
      {"series": "WEATHERTECH", "lap": 59, "gap": 13.0},
      {"series": "WEATHERTECH", "lap": 60, "gap": 12.2},
      {"series": "WEATHERTECH", "lap": 61, "gap": 8.9},
      {"series": "WEATHERTECH", "lap": 62, "gap": 9.4},
      {"series": "WEATHERTECH", "lap": 63, "gap": 13.5},
      {"series": "WEATHERTECH", "lap": 64, "gap": 19.5},
      {"series": "WEATHERTECH", "lap": 65, "gap": 20.2},
      {"series": "WEATHERTECH", "lap": 66, "gap": 16.2},
      {"series": "WEATHERTECH", "lap": 67, "gap": 16.2},
      {"series": "WEATHERTECH", "lap": 68, "gap": 16.2},
      {"series": "WEATHERTECH", "lap": 69, "gap": 15.5},
      {"series": "WEATHERTECH", "lap": 70, "gap": 17.1},
      {"series": "WEATHERTECH", "lap": 71, "gap": 16.2},
      {"series": "WEATHERTECH", "lap": 72, "gap": 15.5},
      {"series": "WEATHERTECH", "lap": 73, "gap": 14.2},

      {"series": "RILEY 91", "lap": 1, "gap": 6.0},
      {"series": "RILEY 91", "lap": 2, "gap": 10.5},
      {"series": "RILEY 91", "lap": 3, "gap": 15.0},
      {"series": "RILEY 91", "lap": 4, "gap": 17.8},
      {"series": "RILEY 91", "lap": 5, "gap": 20.0},
      {"series": "RILEY 91", "lap": 6, "gap": 22.3},
      {"series": "RILEY 91", "lap": 7, "gap": 24.5},
      {"series": "RILEY 91", "lap": 8, "gap": 29.6},
      {"series": "RILEY 91", "lap": 9, "gap": 30.9},
      {"series": "RILEY 91", "lap": 10, "gap": 31.5},
      {"series": "RILEY 91", "lap": 11, "gap": 38.5},
      {"series": "RILEY 91", "lap": 12, "gap": 35.3},
      {"series": "RILEY 91", "lap": 13, "gap": 20.0},
      {"series": "RILEY 91", "lap": 14, "gap": 13.7},
      {"series": "RILEY 91", "lap": 15, "gap": 4.1},
      {"series": "RILEY 91", "lap": 16, "gap": 4.1},
      {"series": "RILEY 91", "lap": 17, "gap": 7.9},
      {"series": "RILEY 91", "lap": 18, "gap": 12.4},
      {"series": "RILEY 91", "lap": 19, "gap": 16.2},
      {"series": "RILEY 91", "lap": 20, "gap": 21.3},
      {"series": "RILEY 91", "lap": 21, "gap": 24.5},
      {"series": "RILEY 91", "lap": 22, "gap": 27.7},
      {"series": "RILEY 91", "lap": 23, "gap": 25.1},
      {"series": "RILEY 91", "lap": 24, "gap": 9.8},
      {"series": "RILEY 91", "lap": 25, "gap": 14.9},
      {"series": "RILEY 91", "lap": 26, "gap": 68.8},
      {"series": "RILEY 91", "lap": 27, "gap": 68.2},
      {"series": "RILEY 91", "lap": 28, "gap": 67.5},
      {"series": "RILEY 91", "lap": 29, "gap": 66.8},
      {"series": "RILEY 91", "lap": 30, "gap": 67.7},
      {"series": "RILEY 91", "lap": 31, "gap": 68.2},
      {"series": "RILEY 91", "lap": 32, "gap": 67.8},
      {"series": "RILEY 91", "lap": 33, "gap": 70.7},
      {"series": "RILEY 91", "lap": 34, "gap": 73.0},
      {"series": "RILEY 91", "lap": 35, "gap": 74.3},
      {"series": "RILEY 91", "lap": 36, "gap": 76.4},
      {"series": "RILEY 91", "lap": 37, "gap": 77.6},
      {"series": "RILEY 91", "lap": 38, "gap": 78.0},
      {"series": "RILEY 91", "lap": 39, "gap": 78.0},
      {"series": "RILEY 91", "lap": 40, "gap": 77.0},
      {"series": "RILEY 91", "lap": 41, "gap": 74.0},
      {"series": "RILEY 91", "lap": 42, "gap": 70.7},
      {"series": "RILEY 91", "lap": 43, "gap": 68.1},
      {"series": "RILEY 91", "lap": 44, "gap": 66.7},
      {"series": "RILEY 91", "lap": 45, "gap": 65.8},
      {"series": "RILEY 91", "lap": 46, "gap": 63.4},
      {"series": "RILEY 91", "lap": 47, "gap": 58.8},
      {"series": "RILEY 91", "lap": 48, "gap": 58.3},
      {"series": "RILEY 91", "lap": 49, "gap": 59.4},
      {"series": "RILEY 91", "lap": 50, "gap": 59.7},
      {"series": "RILEY 91", "lap": 51, "gap": 60.1},
      {"series": "RILEY 91", "lap": 52, "gap": 60.3},
      {"series": "RILEY 91", "lap": 53, "gap": 60.8},
      {"series": "RILEY 91", "lap": 54, "gap": 61.0},
      {"series": "RILEY 91", "lap": 55, "gap": 59.7},
      {"series": "RILEY 91", "lap": 56, "gap": 58.8},
      {"series": "RILEY 91", "lap": 57, "gap": 57.8},
      {"series": "RILEY 91", "lap": 58, "gap": 57.0},
      {"series": "RILEY 91", "lap": 59, "gap": 56.1},
      {"series": "RILEY 91", "lap": 60, "gap": 54.8},
      {"series": "RILEY 91", "lap": 61, "gap": 52.1},
      {"series": "RILEY 91", "lap": 62, "gap": 50.1},
      {"series": "RILEY 91", "lap": 63, "gap": 50.8},
      {"series": "RILEY 91", "lap": 64, "gap": 52.8},
      {"series": "RILEY 91", "lap": 65, "gap": 51.5},
      {"series": "RILEY 91", "lap": 66, "gap": 46.8},
      {"series": "RILEY 91", "lap": 67, "gap": 44.8},
      {"series": "RILEY 91", "lap": 68, "gap": 45.5},
      {"series": "RILEY 91", "lap": 69, "gap": 45.5},
      {"series": "RILEY 91", "lap": 70, "gap": 44.8},
      {"series": "RILEY 91", "lap": 71, "gap": 45.0},
      {"series": "RILEY 91", "lap": 72, "gap": 45.5}
    ]
  },
  "layer": [
    {
      "data": {"name": "track"},
      "mark": {"type": "bar"},
      "encoding": {
        "x": {
          "field": "lap", "type": "ordinal",
          "scale": {"type": "band", "domain": [1,2,3,4,5,6,7,8,9,10,11,12,13,14,15,16,17,18,19,20,21,22,23,24,25,26,27,28,29,30,31,32,33,34,35,36,37,38,39,40,41,42,43,44,45,46,47,48,49,50,51,52,53,54,55,56,57,58,59,60,61,62,63,64,65,66,67,68,69,70,71,72,73,74,75,76], "paddingInner": 0, "paddingOuter": 0},
          "axis": {"values": [1,3,5,7,9,11,13,15,17,19,21,23,25,27,29,31,33,35,37,39,41,43,45,47,49,51,53,55,57,59,61,63,65,67,69,71,73,75], "labelAngle": 0, "labelColor": "#d9d9d9", "labelPadding": 3, "grid": false, "title": null}
        },
        "y": {
          "field": "status", "type": "quantitative",
          "scale": {"domain": [0, 0.8], "nice": false},
          "axis": {
            "orient": "right", "values": [0, 0.1, 0.2, 0.3, 0.4, 0.5, 0.6, 0.7, 0.8],
            "labelExpr": "replace(format(datum.value, '.1~f'), '.', ',')",
            "labelColor": "#5a5a5a", "labelPadding": 12, "grid": false,
            "title": "R8 - Road America\u00a0\u00a0\u00a0\u00a0\u00a0IMSA",
            "titleAngle": 0, "titleX": -403, "titleY": -24, "titleAlign": "left", "titleBaseline": "alphabetic",
            "titleFont": "Open Sans", "titleFontSize": 20, "titleFontWeight": "normal", "titleColor": "#ffffff"
          }
        },
        "color": {
          "field": "series", "type": "nominal",
          "scale": {
            "domain": ["TRACK STATUS", "CORVETTE 3", "CORVETTE 4", "JR III RACING", "ANDRETTI AUTOSPORT", "PERFORMANCE TECH", "CORE", "WULVER RACING", "RILEY 74", "WEATHERTECH", "RILEY 91", "REF LEADER LAP"],
            "range": ["#ffff66", "#ffff00", "#ffff00", "#33c8f5", "#4472c4", "#c00000", "#ffc000", "#262626", "#0070c0", "#a5a5a5", "#e6b9f5", "#f2c14e"]
          },
          "legend": {
            "title": null,
            "encode": {
              "symbols": {
                "update": {
                  "shape": {"signal": "datum.value === 'TRACK STATUS' ? 'M-3.5,-0.75H3.5V0.75H-3.5Z' : 'M-3.3,0H3.3'"},
                  "fill": {"signal": "datum.value === 'TRACK STATUS' ? '#ffff66' : 'transparent'"},
                  "strokeDash": {"signal": "datum.value === 'REF LEADER LAP' ? [2.5, 3.5] : [1, 0]"},
                  "strokeWidth": {"signal": "datum.value === 'TRACK STATUS' ? 0 : (datum.value === 'REF LEADER LAP' ? 2.5 : 4)"},
                  "strokeCap": {"signal": "datum.value === 'REF LEADER LAP' ? 'butt' : 'round'"}
                }
              }
            }
          }
        }
      }
    },
    {
      "data": {"name": "gaps"},
      "mark": {"type": "line", "strokeWidth": 5, "strokeCap": "round", "strokeJoin": "round", "color": "#000000", "opacity": 0.3, "xOffset": 1.5, "yOffset": 2},
      "encoding": {
        "x": {"field": "lap", "type": "ordinal", "bandPosition": 0.5},
        "y": {"field": "gap", "type": "quantitative", "scale": {"domain": [-4.32, 203.04], "nice": false, "zero": false}, "axis": null},
        "detail": {"field": "series", "type": "nominal"}
      }
    },
    {
      "data": {"name": "gaps"},
      "mark": {"type": "line", "strokeWidth": 4, "strokeCap": "round", "strokeJoin": "round"},
      "encoding": {
        "x": {"field": "lap", "type": "ordinal", "bandPosition": 0.5},
        "y": {
          "field": "gap", "type": "quantitative",
          "scale": {"domain": [-4.32, 203.04], "nice": false, "zero": false},
          "axis": {
            "orient": "left",
            "values": [-4.32, 0, 4.32, 12.96, 21.6, 30.24, 38.88, 47.52, 56.16, 64.8, 73.44, 82.08, 90.72, 99.36, 108, 116.64, 125.28, 133.92, 142.56, 151.2, 159.84, 168.48, 177.12, 185.76, 194.4, 203.04],
            "labelExpr": "datum.value < 1 ? '' : floor(datum.value / 60) + ':' + format(floor(datum.value % 60 + 0.000001), '02d') + ',' + format(round((datum.value % 1) * 1000) % 1000, '03d')",
            "labelColor": "#d9d9d9",
            "labelPadding": 12,
            "grid": true,
            "gridColor": "#5a5a5a",
            "gridWidth": 1,
            "title": "GAP CHART",
            "titleAngle": 0, "titleX": 391, "titleY": -20, "titleAlign": "left", "titleBaseline": "alphabetic",
            "titleFont": "Lato", "titleFontSize": 22, "titleFontWeight": "bold", "titleColor": "#d9d9d9"
          }
        },
        "color": {"field": "series", "type": "nominal"}
      }
    },
    {
      "data": {"name": "ref"},
      "mark": {"type": "line", "strokeWidth": 2.5, "strokeDash": [2.5, 3.5]},
      "encoding": {
        "x": {"field": "lap", "type": "ordinal", "bandPosition": 0.5},
        "y": {"field": "ref", "type": "quantitative", "scale": {"domain": [0, 0.8], "nice": false}, "axis": null},
        "color": {"field": "series", "type": "nominal"}
      }
    }
  ],
  "resolve": {"scale": {"y": "independent"}}
}
